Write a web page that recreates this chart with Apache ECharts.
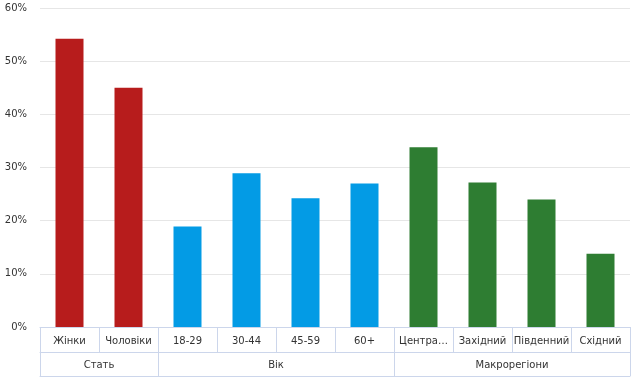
<!DOCTYPE html>
<html>
<head>
<meta charset="utf-8">
<script src="https://cdn.jsdelivr.net/npm/echarts@6/dist/echarts.min.js"></script>
<style>
  html, body { margin: 0; padding: 0; background: #fff; }
  #chart { width: 636px; height: 377px; }
</style>
</head>
<body>
<div id="chart"></div>
<script>
// categories, grouped
var categories = ['Жінки', 'Чоловіки', '18-29', '30-44', '45-59', '60+', 'Центральний', 'Західний', 'Південний', 'Східний']
var values = [54.2, 45.0, 18.9, 28.9, 24.2, 27.0, 33.8, 27.2, 24.0, 13.8]
var groupNames = ['Стать', 'Вік', 'Макрорегіони']
var groupSizes = [2, 4, 4]
var groupColors = ['#b71c1c', '#039be5', '#2e7d32']
var yTicks = [0, 10, 20, 30, 40, 50, 60]

var border = '#ccd6eb'
var font = 'DejaVu Sans'

// group boundaries and centers (in category units)
var bounds = [0]
var centers = []
var itemColors = []
groupSizes.forEach(function (n, i) {
  var start = bounds[bounds.length - 1]
  bounds.push(start + n)
  centers.push(start + n / 2)
  for (var k = 0; k < n; k++) itemColors.push(groupColors[i])
})

var chart = echarts.init(document.getElementById('chart'))
chart.setOption({
  animation: false,
  grid: { left: 40, right: 6, top: 8, bottom: 50 },
  xAxis: [
    {
      type: 'category',
      data: categories,
      position: 'bottom',
      axisLine: { lineStyle: { color: border } },
      axisTick: { show: true, length: 25, lineStyle: { color: border } },
      axisLabel: {
        color: '#333', fontFamily: font, fontSize: 10, margin: 9,
        interval: 0, width: 62, overflow: 'truncate', ellipsis: '…'
      }
    },
    {
      type: 'value',
      min: 0, max: categories.length,
      position: 'bottom',
      offset: 25,
      splitLine: { show: false },
      axisLine: { show: true, lineStyle: { color: border } },
      axisTick: { show: true, length: 24, customValues: bounds, lineStyle: { color: border } },
      axisLabel: {
        color: '#333', fontFamily: font, fontSize: 10, margin: 8,
        customValues: centers,
        formatter: function (v) { return groupNames[centers.indexOf(v)] }
      }
    },
    {
      type: 'value',
      min: 0, max: categories.length,
      position: 'bottom',
      offset: 49,
      splitLine: { show: false },
      axisLine: { show: true, lineStyle: { color: border } },
      axisTick: { show: false },
      axisLabel: { show: false }
    }
  ],
  yAxis: {
    type: 'value',
    min: yTicks[0],
    max: yTicks[yTicks.length - 1],
    interval: 10,
    axisLine: { show: false },
    axisTick: { show: false },
    splitLine: { lineStyle: { color: '#e6e6e6' } },
    axisLabel: { color: '#333', fontFamily: font, fontSize: 10, margin: 13, formatter: '{value}%' }
  },
  series: [{
    type: 'bar',
    xAxisIndex: 0,
    barWidth: 28,
    data: values.map(function (v, i) {
      return { value: v, itemStyle: { color: itemColors[i] } }
    })
  }]
})
</script>
</body>
</html>
